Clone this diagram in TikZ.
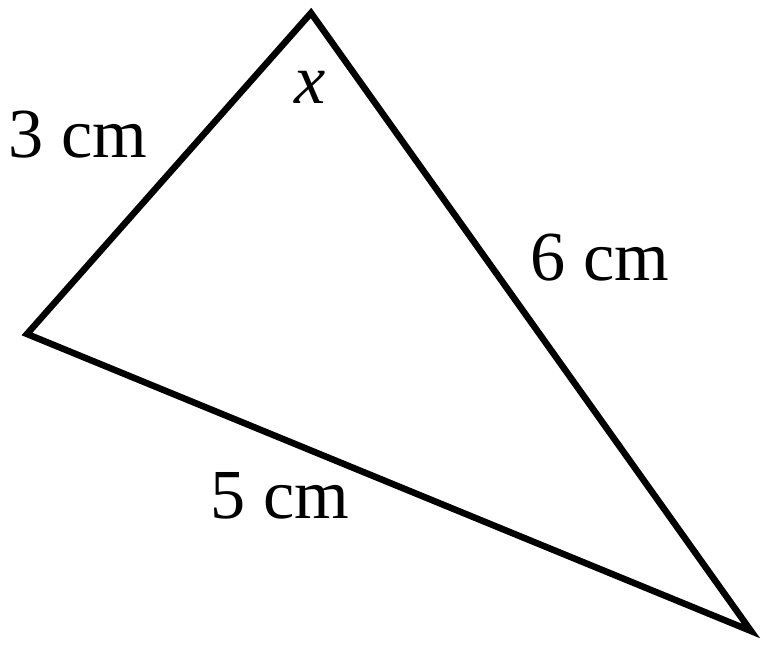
\documentclass[tikz,border=0pt]{standalone}
\usepackage{fontspec}
\setmainfont{Liberation Serif}
\begin{document}
\begin{tikzpicture}[x=0.02cm,y=-0.02cm]
    \useasboundingbox (0,0) rectangle (766,648);

    \coordinate (T) at (311,13);
    \coordinate (L) at (27,334);
    \coordinate (R) at (751,631);

    \begin{scope}[every path/.style={line width=3.7pt,line join=miter}]
        \draw (T) -- (L) -- (R) -- cycle;
    \end{scope}

    \begin{scope}[every node/.style={anchor=base,inner sep=0pt,font=\fontsize{40}{44}\selectfont}]
        \node (a) at (78,158) {3 cm};
        \node (b) at (600,280) {6 cm};
        \node (c) at (280,518) {5 cm};
        \node (angx) at (310,104) {\textit{x}};
    \end{scope}
\end{tikzpicture}
\end{document}
